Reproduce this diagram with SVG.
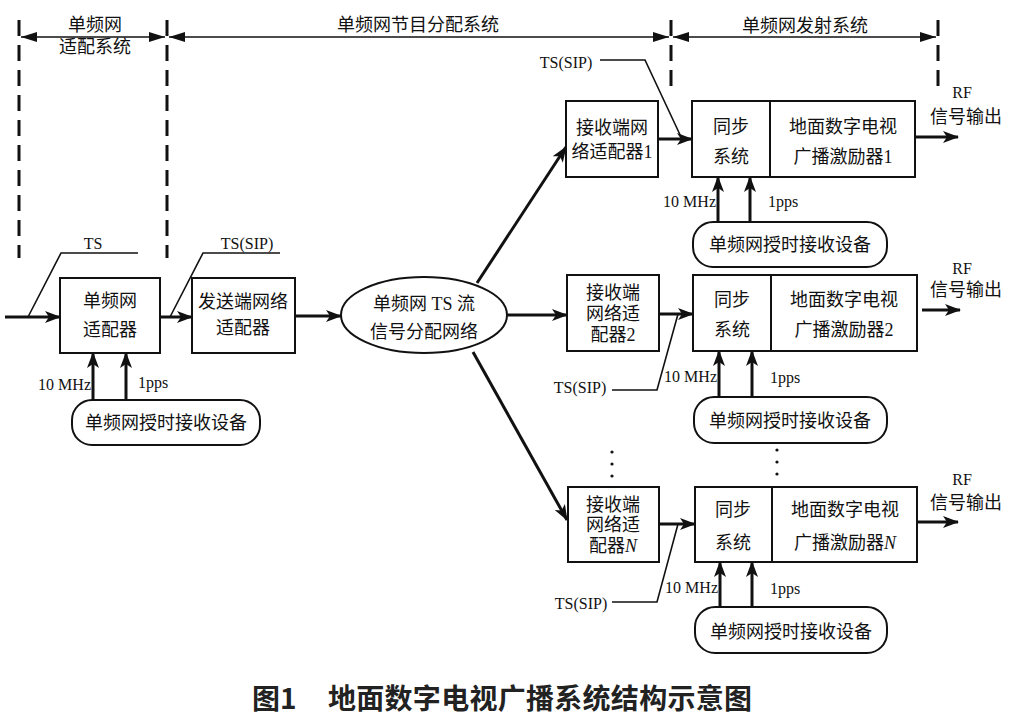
<svg xmlns="http://www.w3.org/2000/svg" width="1020" height="720" viewBox="0 0 1020 720">
<style>
.t{font-family:"Liberation Serif","Noto Sans CJK SC",serif;font-size:18px;fill:#111;text-anchor:middle;dominant-baseline:central}
.s{font-family:"Liberation Serif","Noto Sans CJK SC",serif;font-size:16px;fill:#111;dominant-baseline:central}
.box{fill:#fff;stroke:#111;stroke-width:2}
.thick{stroke:#111;stroke-width:3;fill:none}
.thin{stroke:#111;stroke-width:1.6;fill:none}
.dash{stroke:#111;stroke-width:3;stroke-dasharray:16 9;fill:none}
.cap{font-family:"Noto Sans CJK SC",sans-serif;font-size:28px;font-weight:bold;fill:#222;dominant-baseline:central}
</style>
<defs>
<marker id="a" markerUnits="userSpaceOnUse" markerWidth="16" markerHeight="12" refX="15" refY="6" orient="auto"><path d="M0,0 L16,6 L0,12 L4,6 Z" fill="#111"/></marker>
<marker id="h" markerUnits="userSpaceOnUse" markerWidth="16" markerHeight="10" refX="16" refY="5" orient="auto-start-reverse"><path d="M0,0 L16,5 L0,10 Z" fill="#111"/></marker>
</defs>
<rect width="1020" height="720" fill="#fff"/>

<g id="header">
<path class="dash" d="M19,20 V258 M167,20 V258 M671,20 V95 M938,20 V95"/>
<path class="thin" d="M21,37 H165" marker-start="url(#h)" marker-end="url(#h)"/>
<path class="thin" d="M169,37 H669" marker-start="url(#h)" marker-end="url(#h)"/>
<path class="thin" d="M673,37 H936" marker-start="url(#h)" marker-end="url(#h)"/>
<text class="t" x="95" y="25">单频网</text>
<text class="t" x="95" y="47">适配系统</text>
<text class="t" x="418" y="25">单频网节目分配系统</text>
<text class="t" x="805" y="26">单频网发射系统</text>
</g>

<g id="connectors">
<path class="thick" d="M5,317 H60" marker-end="url(#a)"/>
<path class="thin" d="M28,317 L61,253 H138"/>
<path class="thick" d="M160,317 H192" marker-end="url(#a)"/>
<path class="thin" d="M170,317 L203,253 H280"/>
<path class="thick" d="M295,316 H341" marker-end="url(#a)"/>
<path class="thick" d="M93,400 V353" marker-end="url(#a)"/>
<path class="thick" d="M126,400 V353" marker-end="url(#a)"/>
<path class="thick" d="M477,283 L566,147" marker-end="url(#a)"/>
<path class="thick" d="M507,315 H567" marker-end="url(#a)"/>
<path class="thick" d="M473,352 L567,520" marker-end="url(#a)"/>
<path class="thick" d="M658,139 H692" marker-end="url(#a)"/>
<path class="thin" d="M600,60 H645 L682,139"/>
<path class="thick" d="M718,222 V177" marker-end="url(#a)"/>
<path class="thick" d="M750,222 V177" marker-end="url(#a)"/>
<path class="thick" d="M916,137 H958" marker-end="url(#a)"/>
<path class="thick" d="M659,314 H693" marker-end="url(#a)"/>
<path class="thin" d="M612,390 H657 L678,314"/>
<path class="thick" d="M719,397 V351" marker-end="url(#a)"/>
<path class="thick" d="M752,397 V351" marker-end="url(#a)"/>
<path class="thick" d="M922,310 H960" marker-end="url(#a)"/>
<path class="thick" d="M659,524 H695" marker-end="url(#a)"/>
<path class="thin" d="M612,602 H657 L678,524"/>
<path class="thick" d="M720,607 V562" marker-end="url(#a)"/>
<path class="thick" d="M752,607 V562" marker-end="url(#a)"/>
<path class="thick" d="M917,522 H958" marker-end="url(#a)"/>
</g>

<g id="labels">
<text class="s" x="93" y="243" text-anchor="middle">TS</text>
<text class="s" x="247" y="243" text-anchor="middle">TS(SIP)</text>
<text class="s" x="91" y="384" text-anchor="end">10 MHz</text>
<text class="s" x="138" y="382">1pps</text>
<text class="s" x="566" y="62" text-anchor="middle">TS(SIP)</text>
<text class="s" x="716" y="201" text-anchor="end">10 MHz</text>
<text class="s" x="768" y="201">1pps</text>
<text class="s" x="580" y="387" text-anchor="middle">TS(SIP)</text>
<text class="s" x="717" y="376" text-anchor="end">10 MHz</text>
<text class="s" x="770" y="377">1pps</text>
<text class="s" x="581" y="603" text-anchor="middle">TS(SIP)</text>
<text class="s" x="718" y="587" text-anchor="end">10 MHz</text>
<text class="s" x="770" y="588">1pps</text>
<text class="s" x="962" y="92" text-anchor="middle">RF</text>
<text class="t" x="966" y="117">信号输出</text>
<text class="s" x="962" y="268" text-anchor="middle">RF</text>
<text class="t" x="966" y="290">信号输出</text>
<text class="s" x="962" y="479" text-anchor="middle">RF</text>
<text class="t" x="966" y="503">信号输出</text>
</g>

<g id="sfn-adapter">
<rect class="box" x="60" y="278" width="100" height="75"/>
<text class="t" x="110" y="301">单频网</text>
<text class="t" x="110" y="330">适配器</text>
</g>
<g id="sfn-timing-0">
<rect class="box" x="72" y="400" width="188" height="45" rx="20"/>
<text class="t" x="166" y="423">单频网授时接收设备</text>
</g>
<g id="send-adapter">
<rect class="box" x="192" y="278" width="103" height="75"/>
<text class="t" x="243" y="302">发送端网络</text>
<text class="t" x="243" y="328">适配器</text>
</g>
<g id="distribution">
<ellipse class="box" cx="424" cy="315" rx="83" ry="38"/>
<text class="t" x="424" y="304">单频网 TS 流</text>
<text class="t" x="424" y="332">信号分配网络</text>
</g>

<g id="recv-1">
<rect class="box" x="566" y="101" width="92" height="76"/>
<text class="t" x="612" y="128">接收端网</text>
<text class="t" x="612" y="152">络适配器1</text>
</g>
<g id="tx-1">
<rect class="box" x="692" y="101" width="223" height="76"/>
<line x1="770" y1="101" x2="770" y2="177" stroke="#111" stroke-width="2"/>
<text class="t" x="731" y="127">同步</text>
<text class="t" x="731" y="157">系统</text>
<text class="t" x="843" y="127">地面数字电视</text>
<text class="t" x="843" y="157">广播激励器1</text>
</g>
<g id="timing-1">
<rect class="box" x="693" y="222" width="194" height="45" rx="20"/>
<text class="t" x="790" y="245">单频网授时接收设备</text>
</g>

<g id="recv-2">
<rect class="box" x="567" y="275" width="92" height="76"/>
<text class="t" x="613" y="293">接收端</text>
<text class="t" x="613" y="314">网络适</text>
<text class="t" x="613" y="335">配器2</text>
</g>
<g id="tx-2">
<rect class="box" x="693" y="275" width="224" height="76"/>
<line x1="771" y1="275" x2="771" y2="351" stroke="#111" stroke-width="2"/>
<text class="t" x="732" y="300">同步</text>
<text class="t" x="732" y="330">系统</text>
<text class="t" x="844" y="300">地面数字电视</text>
<text class="t" x="844" y="330">广播激励器2</text>
</g>
<g id="timing-2">
<rect class="box" x="694" y="397" width="193" height="46" rx="20"/>
<text class="t" x="790" y="421">单频网授时接收设备</text>
</g>

<g id="dots" fill="#111">
<circle cx="612" cy="452" r="1.6"/><circle cx="612" cy="464" r="1.6"/><circle cx="612" cy="476" r="1.6"/>
<circle cx="777" cy="450" r="1.6"/><circle cx="777" cy="462" r="1.6"/><circle cx="777" cy="474" r="1.6"/>
</g>

<g id="recv-n">
<rect class="box" x="568" y="487" width="91" height="75"/>
<text class="t" x="613" y="505">接收端</text>
<text class="t" x="613" y="525">网络适</text>
<text class="t" x="613" y="546">配器<tspan font-style="italic">N</tspan></text>
</g>
<g id="tx-n">
<rect class="box" x="695" y="487" width="222" height="75"/>
<line x1="772" y1="487" x2="772" y2="562" stroke="#111" stroke-width="2"/>
<text class="t" x="733" y="510">同步</text>
<text class="t" x="733" y="543">系统</text>
<text class="t" x="845" y="510">地面数字电视</text>
<text class="t" x="845" y="543">广播激励器<tspan font-style="italic">N</tspan></text>
</g>
<g id="timing-n">
<rect class="box" x="695" y="607" width="192" height="46" rx="20"/>
<text class="t" x="791" y="632">单频网授时接收设备</text>
</g>

<g id="caption">
<text class="cap" x="252" y="697">图1</text>
<text class="cap" x="328" y="697" textLength="424" lengthAdjust="spacing">地面数字电视广播系统结构示意图</text>
</g>
</svg>
